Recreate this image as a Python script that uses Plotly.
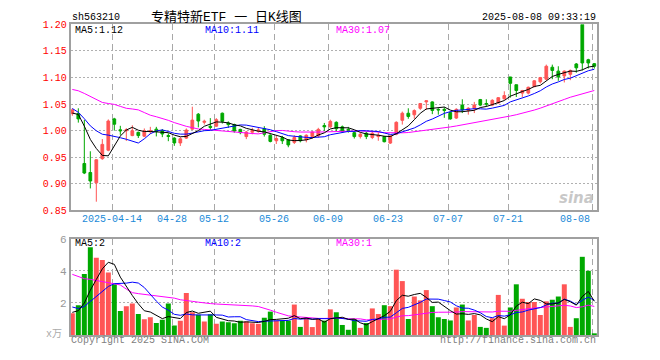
import math
import numpy as np
import plotly.graph_objects as go

# ---------------- data ----------------
dates = [
    "2025-04-02", "2025-04-03", "2025-04-07", "2025-04-08", "2025-04-09", "2025-04-10", "2025-04-11",
    "2025-04-14", "2025-04-15", "2025-04-16", "2025-04-17", "2025-04-18", "2025-04-21", "2025-04-22",
    "2025-04-23", "2025-04-24", "2025-04-25", "2025-04-28", "2025-04-29", "2025-04-30",
    "2025-05-06", "2025-05-07", "2025-05-08", "2025-05-09", "2025-05-12", "2025-05-13", "2025-05-14",
    "2025-05-15", "2025-05-16", "2025-05-19", "2025-05-20", "2025-05-21", "2025-05-22", "2025-05-23",
    "2025-05-26", "2025-05-27", "2025-05-28", "2025-05-29", "2025-05-30",
    "2025-06-03", "2025-06-04", "2025-06-05", "2025-06-06", "2025-06-09", "2025-06-10", "2025-06-11",
    "2025-06-12", "2025-06-13", "2025-06-16", "2025-06-17", "2025-06-18", "2025-06-19", "2025-06-20",
    "2025-06-23", "2025-06-24", "2025-06-25", "2025-06-26", "2025-06-27", "2025-06-30",
    "2025-07-01", "2025-07-02", "2025-07-03", "2025-07-04", "2025-07-07", "2025-07-08", "2025-07-09",
    "2025-07-10", "2025-07-11", "2025-07-14", "2025-07-15", "2025-07-16", "2025-07-17", "2025-07-18",
    "2025-07-21", "2025-07-22", "2025-07-23", "2025-07-24", "2025-07-25", "2025-07-28", "2025-07-29",
    "2025-07-30", "2025-07-31",
    "2025-08-01", "2025-08-04", "2025-08-05", "2025-08-06", "2025-08-07", "2025-08-08",
]

opens = [
    1.032, 1.032, 0.938, 0.921, 0.9015, 0.947, 0.963, 1.022, 1.0015, 0.9997,
    0.9906, 0.9967, 0.9894, 0.998, 1.0027, 0.9997, 0.9906, 0.9858, 0.9767, 0.9858,
    1.0027, 1.0309, 1.0156, 1.008, 1.0083, 1.0327, 1.0144, 1.0113, 1.0022, 0.9887,
    0.997, 0.999, 1.0034, 0.9912, 0.9808, 0.9869, 0.9826, 0.9778, 0.990, 0.9826,
    0.9887, 0.990, 1.0095, 1.007, 1.0156, 1.007, 1.0022, 0.9961, 0.9887, 0.9949,
    0.9869, 0.9887, 0.9887, 0.9765, 0.993, 1.0193, 1.0327, 1.0297, 1.042, 1.054,
    1.054, 1.040, 1.040, 1.034, 1.0236, 1.048, 1.038, 1.042, 1.0584, 1.051,
    1.048, 1.052, 1.060, 1.101, 1.0864, 1.0706, 1.0706, 1.0828, 1.0919, 1.0968,
    1.1194, 1.112, 1.1029, 1.106, 1.1255, 1.2006, 1.1335, 1.1261,
]
highs = [
    1.0415, 1.042, 1.020, 0.961, 0.946, 0.984, 1.021, 1.024, 1.009, 1.0045,
    1.010, 0.998, 1.004, 1.007, 1.007, 1.003, 0.995, 0.9876, 0.9876, 1.004,
    1.045, 1.033, 1.0205, 1.0235, 1.0235, 1.034, 1.0174, 1.013, 1.0034, 0.9991,
    1.0052, 1.0052, 1.0083, 0.993, 0.990, 0.990, 0.9839, 0.9912, 0.9912, 0.993,
    0.9991, 1.0052, 1.0144, 1.0205, 1.0174, 1.0095, 1.007, 0.9991, 0.9961, 0.9973,
    0.9973, 0.9973, 0.990, 0.9912, 1.0174, 1.0358, 1.042, 1.040, 1.052, 1.057,
    1.055, 1.042, 1.044, 1.036, 1.042, 1.059, 1.044, 1.054, 1.0596, 1.059,
    1.059, 1.063, 1.074, 1.101, 1.0864, 1.0767, 1.0828, 1.095, 1.1011, 1.1243,
    1.1243, 1.1212, 1.1133, 1.115, 1.1273, 1.2006, 1.1353, 1.1273,
]
lows = [
    1.028, 1.015, 0.918, 0.891, 0.866, 0.945, 0.961, 1.000, 0.992, 0.9805,
    0.9894, 0.986, 0.9876, 0.9936, 0.989, 0.9876, 0.980, 0.9712, 0.971, 0.9845,
    1.0015, 1.006, 1.0113, 1.001, 1.007, 1.0132, 1.0052, 0.996, 0.993, 0.9839,
    0.993, 0.996, 0.9887, 0.9778, 0.9747, 0.9747, 0.9686, 0.9747, 0.9778, 0.9778,
    0.985, 0.987, 0.9991, 1.0052, 0.9991, 0.996, 0.9961, 0.985, 0.985, 0.9839,
    0.9839, 0.9808, 0.9778, 0.9747, 0.9912, 1.0113, 1.0223, 1.0223, 1.039, 1.039,
    1.031, 1.030, 1.024, 1.0205, 1.022, 1.033, 1.030, 1.033, 1.046, 1.045,
    1.046, 1.051, 1.058, 1.062, 1.0633, 1.0633, 1.0682, 1.0816, 1.0889, 1.095,
    1.0968, 1.0938, 1.0907, 1.095, 1.109, 1.1133, 1.117, 1.117,
]
closes = [
    1.039, 1.022, 0.920, 0.905, 0.945, 0.974, 1.018, 1.012, 0.9997, 1.0015,
    0.9997, 0.9906, 0.9997, 1.000, 0.998, 0.9936, 0.989, 0.9767, 0.9845, 1.0009,
    1.0197, 1.018, 1.0174, 1.006, 1.0205, 1.0174, 1.0113, 0.9991, 0.9961, 0.9973,
    1.0003, 1.001, 0.993, 0.9796, 0.985, 0.9808, 0.9729, 0.9869, 0.9808, 0.9912,
    0.9973, 1.0022, 1.007, 1.0174, 1.0034, 0.9979, 1.0003, 0.9887, 0.993, 0.9887,
    0.9949, 0.9912, 0.979, 0.990, 1.0156, 1.0327, 1.0266, 1.0376, 1.051, 1.056,
    1.038, 1.039, 1.038, 1.022, 1.040, 1.039, 1.042, 1.048, 1.048, 1.050,
    1.057, 1.062, 1.066, 1.089, 1.0755, 1.0755, 1.0816, 1.0938, 1.0999, 1.1212,
    1.1133, 1.1011, 1.112, 1.1133, 1.1182, 1.1274, 1.1274, 1.1212,
]
volumes = [
    1.36, 1.86, 3.8, 5.47, 4.81, 4.67, 3.9, 3.16, 1.5, 1.8,
    1.96, 1.32, 0.99, 1.11, 0.75, 0.95, 1.96, 0.59, 0.89, 2.62,
    1.42, 1.26, 0.84, 1.3, 0.7, 0.84, 0.8, 0.74, 0.9, 0.84,
    0.74, 0.7, 1.08, 1.46, 0.9, 0.9, 0.9, 1.9, 0.51, 1.1,
    0.5, 1.0, 0.9, 1.6, 1.42, 0.63, 0.33, 1.0, 0.45, 0.75,
    1.66, 1.31, 1.86, 1.8, 4.07, 3.36, 1.0, 2.4, 2.16, 2.8,
    1.8, 1.11, 1.0, 0.91, 1.72, 1.9, 0.91, 1.25, 0.51, 0.45,
    1.05, 2.5, 0.59, 1.72, 3.16, 2.26, 2.06, 2.06, 1.25, 2.1,
    2.2, 2.4, 3.16, 0.51, 1.05, 4.87, 4.0, 0.11,
]
# sessions before the visible window (estimated from where the MA lines start)
pre_closes = [
    1.097, 1.070, 1.085, 1.125, 1.124, 1.078, 1.062, 1.110, 1.111, 1.040,
    1.041, 1.150, 1.149, 1.086, 1.086, 1.100, 1.105, 1.098, 1.098, 1.094,
    1.094, 1.040, 1.040, 1.038, 1.039, 1.035, 1.030, 1.030, 1.031,
]
pre_volumes = [
    6.5, 7.2, 6.8, 6.9, 6.4, 5.3, 4.9, 4.96, 9.5, 8.66,
    3.12, 2.5, 2.3, 2.25, 2.6, 2.7, 2.4, 3.9, 3.5, 3.53,
    2.8, 2.5, 2.3, 1.5, 1.3, 1.34, 1.4, 1.5, 1.47,
]
tick_dates = ["2025-04-14", "2025-04-28", "2025-05-12", "2025-05-26", "2025-06-09",
              "2025-06-23", "2025-07-07", "2025-07-21", "2025-08-08"]
tick_labels = ["2025-04-14", "04-28", "05-12", "05-26", "06-09",
               "06-23", "07-07", "07-21", "08-08"]
price_ticks = [0.85, 0.90, 0.95, 1.00, 1.05, 1.10, 1.15, 1.20]
vol_ticks = [2, 4, 6]
title_code = "sh563210"
title_text = "专精特新ETF 一 日K线图"
timestamp = "2025-08-08 09:33:19"

# ---------------- derived ----------------
n = len(dates)
xi = np.arange(n)


def moving_avg(values, pre, w):
    full = np.array(pre + values, dtype=float)
    out = np.convolve(full, np.ones(w) / w, mode="valid")
    return out[-len(values):]


ma5 = moving_avg(closes, pre_closes, 5)
ma10 = moving_avg(closes, pre_closes, 10)
ma30 = moving_avg(closes, pre_closes, 30)
vma5 = moving_avg(volumes, pre_volumes, 5)
vma10 = moving_avg(volumes, pre_volumes, 10)
vma30 = moving_avg(volumes, pre_volumes, 30)


def floor2(v):
    return f"{math.floor(v * 100 + 1e-9) / 100:.2f}"


def floor0(v):
    return f"{math.floor(v + 1e-9)}"


RED = "#ff5555"
GREEN = "#00a800"
MONO = "Liberation Mono, DejaVu Sans Mono, monospace"
W, H = 660, 360
GRID_SHIFT = -1 / 3
grid_x = [dates.index(d) + GRID_SHIFT for d in tick_dates]
vol_colors = [RED if c >= o else GREEN for o, c in zip(opens, closes)]


def PX(x):
    return x / W


def PY(y):
    return 1 - y / H


fig = go.Figure()
fig.add_trace(go.Candlestick(
    x=xi, open=opens, high=highs, low=lows, close=closes,
    increasing=dict(line=dict(color=RED, width=1), fillcolor=RED),
    decreasing=dict(line=dict(color=GREEN, width=1), fillcolor=GREEN),
    xaxis="x", yaxis="y", hoverinfo="skip",
))
for arr, col in [(ma30, "#ff00ff"), (ma10, "#0000ff"), (ma5, "#000000")]:
    fig.add_trace(go.Scatter(x=xi, y=arr, mode="lines", line=dict(color=col, width=1),
                             xaxis="x", yaxis="y", hoverinfo="skip"))
fig.add_trace(go.Bar(x=xi, y=volumes, marker=dict(color=vol_colors, line=dict(width=0)),
                     xaxis="x2", yaxis="y2", hoverinfo="skip"))
for arr, col in [(vma30, "#ff00ff"), (vma10, "#0000ff"), (vma5, "#000000")]:
    fig.add_trace(go.Scatter(x=xi, y=arr, mode="lines", line=dict(color=col, width=1),
                             xaxis="x2", yaxis="y2", hoverinfo="skip"))

xdom = [PX(70.7), PX(597)]
xr = [-0.27, n - 1 + 0.45]
common_x = dict(domain=xdom, range=xr, tickmode="array", tickvals=grid_x,
                showticklabels=False, ticks="", showgrid=True, gridcolor="#a8a8a8",
                griddash="6px,4px", gridwidth=1.5, zeroline=False, showline=True,
                mirror=True, linecolor="#a0a0a0", linewidth=2, fixedrange=True)
common_y = dict(ticks="", showgrid=True, gridcolor="#b0b0b0", griddash="2px,2px",
                gridwidth=1, zeroline=False, showline=True, mirror=True,
                linecolor="#a0a0a0", linewidth=2, fixedrange=True)

fig.update_layout(
    width=W, height=H, margin=dict(l=0, r=0, t=0, b=0),
    paper_bgcolor="white", plot_bgcolor="white", showlegend=False,
    boxgap=0.35, bargap=0.17,
    xaxis=dict(**common_x, anchor="y", rangeslider=dict(visible=False)),
    yaxis=dict(**common_y, domain=[PY(211.7), PY(20)], range=[0.8499, 1.2001],
               tickmode="array", tickvals=price_ticks, tickformat=".2f",
               tickfont=dict(family=MONO, size=10, color="#ff0000"), anchor="x"),
    xaxis2=dict(**common_x, anchor="y2"),
    yaxis2=dict(**common_y, domain=[PY(340.5), PY(241)], range=[0, 6.001],
                tickmode="array", tickvals=vol_ticks,
                tickfont=dict(family=MONO, size=11, color="#999999"), anchor="x2"),
)

ann = []


def text(x, y, s, color="#000000", size=10, anchor="left", family=MONO, xref="paper"):
    ann.append(dict(x=x, y=y, xref=xref, yref="paper", text=s, showarrow=False,
                    xanchor=anchor, yanchor="middle",
                    font=dict(family=family, size=size, color=color)))


text(PX(70), PY(12.5), title_code, size=10)
text(PX(149), PY(12.5), title_text, size=13,
     family="Liberation Mono, Noto Sans CJK SC, monospace")
text(PX(598), PY(12.5), timestamp, size=10, anchor="right")

text(PX(73), PY(26), "MA5:" + floor2(ma5[-1]))
text(PX(203), PY(26), "MA10:" + floor2(ma10[-1]), color="#0000ff")
text(PX(334), PY(26), "MA30:" + floor2(ma30[-1]), color="#ff00ff")

text(PX(73), PY(246.5), "MA5:" + floor0(vma5[-1]))
text(PX(203), PY(246.5), "MA10:" + floor0(vma10[-1]), color="#0000ff")
text(PX(334), PY(246.5), "MA30:" + floor0(vma30[-1]), color="#ff00ff")

for gx, lab in zip(grid_x, tick_labels):
    last = lab == tick_labels[-1]
    ann.append(dict(x=gx, y=PY(221.5), xref="x", yref="paper", text=lab, showarrow=False,
                    xanchor="right" if last else "center", yanchor="middle",
                    font=dict(family=MONO, size=10, color="#1a8ad8")))

text(PX(64), PY(340), "x万", color="#aaaaaa", size=10, anchor="right",
     family="Liberation Mono, Noto Sans CJK SC, monospace")
text(PX(69), PY(346), "Copyright 2025 SINA.COM", color="#808080", size=10)
text(PX(598), PY(346), "http://finance.sina.com.cn", color="#808080", size=10, anchor="right")
text(PX(596), PY(199), "<b><i>sina</i></b>", color="rgba(190,190,190,0.85)", size=15,
     anchor="right", family="DejaVu Sans, sans-serif")

fig.update_layout(annotations=ann)
fig.write_html("out.html", config={"displayModeBar": False, "staticPlot": True},
               post_script="document.body.style.margin='0';")
